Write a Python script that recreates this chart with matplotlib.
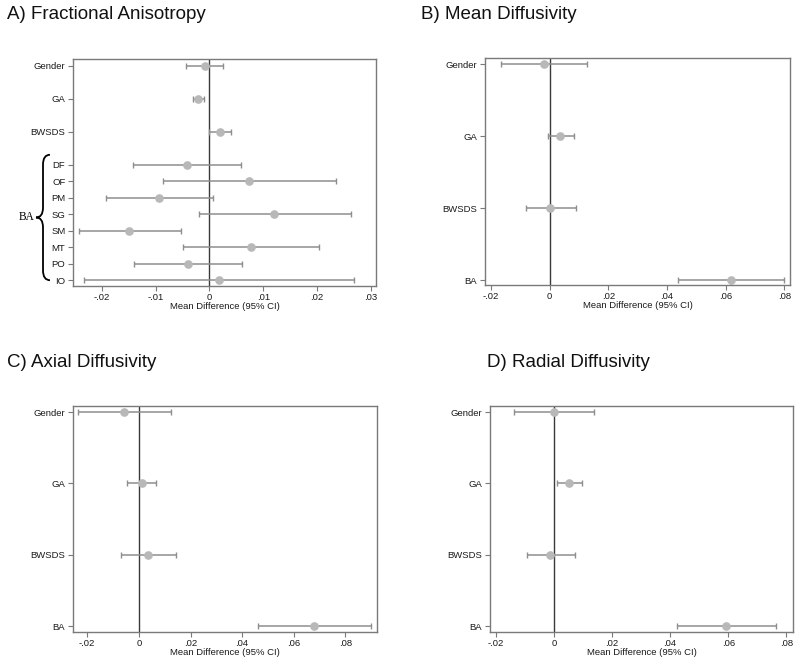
import numpy as np
import matplotlib
matplotlib.use("Agg")
import matplotlib.pyplot as plt
from matplotlib.path import Path
from matplotlib.patches import PathPatch
import matplotlib.transforms as mtransforms

plt.rcParams['font.family'] = ['Liberation Sans', 'DejaVu Sans']

# ---------------- data ----------------
fa_labels = ["Gender", "GA", "BWSDS", "DF", "OF", "PM", "SG", "SM", "MT", "PO", "IO"]
fa_est = [-0.0009, -0.0021, 0.0020, -0.0041, 0.0074, -0.0094, 0.0120, -0.0149, 0.0078, -0.0040, 0.0018]
fa_lo = [-0.0043, -0.0031, 0.0000, -0.0142, -0.0087, -0.0193, -0.0020, -0.0243, -0.0049, -0.0141, -0.0234]
fa_hi = [0.0026, -0.0011, 0.0040, 0.0059, 0.0236, 0.0006, 0.0263, -0.0053, 0.0204, 0.0061, 0.0269]

labels4 = ["Gender", "GA", "BWSDS", "BA"]
md_est = [-0.0019, 0.0037, 0.0003, 0.0617]
md_lo = [-0.0164, -0.0007, -0.0082, 0.0439]
md_hi = [0.0126, 0.0082, 0.0090, 0.0797]

ad_est = [-0.0057, 0.0012, 0.0036, 0.0678]
ad_lo = [-0.0234, -0.0044, -0.0071, 0.0461]
ad_hi = [0.0124, 0.0066, 0.0143, 0.0897]

rd_est = [0.0000, 0.0053, -0.0013, 0.0594]
rd_lo = [-0.0137, 0.0011, -0.0093, 0.0425]
rd_hi = [0.0137, 0.0095, 0.0071, 0.0763]

titles = ["A) Fractional Anisotropy", "B) Mean Diffusivity",
          "C) Axial Diffusivity", "D) Radial Diffusivity"]
xlabel = "Mean Difference (95% CI)"

# ---------------- layout ----------------
W, H = 800, 664
fig = plt.figure(figsize=(W / 100, H / 100), dpi=100)

def add_ax(l, r, t, b):
    return fig.add_axes([l / W, 1 - b / H, (r - l) / W, (b - t) / H])

SPINE = "#7a7a7a"
BAR = "#8e8e8e"
MARK = "#b8b8b8"
ZERO = "#3a3a3a"

def fmt(v, _):
    if abs(v) < 1e-9:
        return "0"
    s = f"{v:.2f}"
    return s.replace("0.", ".")

def forest(ax, labels, est, lo, hi, pos, xlim, ylim, xticks):
    est = np.asarray(est); lo = np.asarray(lo); hi = np.asarray(hi)
    ax.axvline(0, color=ZERO, lw=1.0, zorder=1)
    ax.errorbar(est, pos, xerr=[est - lo, hi - est], fmt='o',
                color=BAR, ecolor=BAR, elinewidth=1.1, capsize=2.2, capthick=1.0,
                markersize=5.2, markerfacecolor=MARK, markeredgecolor=MARK, zorder=2)
    ax.set_xlim(*xlim)
    ax.set_ylim(*ylim)
    ax.set_yticks(pos)
    ax.set_yticklabels(labels)
    ax.set_xticks(xticks)
    ax.xaxis.set_major_formatter(plt.FuncFormatter(fmt))
    ax.tick_params(axis='both', colors=SPINE, labelcolor="#1a1a1a", labelsize=6.8,
                   length=3.5, width=0.8, direction='out')
    ax.tick_params(axis='x', pad=1.5)
    ax.tick_params(axis='y', pad=2)
    for s in ax.spines.values():
        s.set_color(SPINE)
        s.set_linewidth(1.0)
    ax.set_xlabel(xlabel, fontsize=6.8, labelpad=0, color="#1a1a1a")

# positions: first three rows spaced by 2, BA sub-rows spaced by 1
fa_pos = [0, 2, 4] + [6 + i for i in range(len(fa_labels) - 3)]
pos4 = list(range(len(labels4)))

axA = add_ax(73, 376, 59, 286)
forest(axA, fa_labels, fa_est, fa_lo, fa_hi, fa_pos,
       (-0.02537, 0.03095), (13.35, -0.40), np.arange(-0.02, 0.0301, 0.01))

axB = add_ax(485, 790, 58, 285)
forest(axB, labels4, md_est, md_lo, md_hi, pos4,
       (-0.0220, 0.0819), (3.065, -0.088), np.arange(-0.02, 0.0801, 0.02))

axC = add_ax(73, 377, 406, 632)
forest(axC, labels4, ad_est, ad_lo, ad_hi, pos4,
       (-0.0255, 0.0922), (3.078, -0.084), np.arange(-0.02, 0.0801, 0.02))

axD = add_ax(490, 793, 406, 632)
forest(axD, labels4, rd_est, rd_lo, rd_hi, pos4,
       (-0.0220, 0.0823), (3.078, -0.084), np.arange(-0.02, 0.0801, 0.02))

# titles
title_xy = [(7, 19), (421, 19), (7, 367), (487, 367)]
for (x, y), t in zip(title_xy, titles):
    fig.text(x / W, 1 - y / H, t, fontsize=13.5, ha='left', va='baseline', color="#111111")

# curly brace for BA group in panel A
trans = mtransforms.blended_transform_factory(axA.transAxes, axA.transData)
y_top = fa_pos[3] - 0.6
y_bot = fa_pos[-1]
y_mid = (y_top + y_bot) / 2
xr, xm, xt = -0.076, -0.099, -0.122
c = 0.6
verts = [(xr, y_top), (xm, y_top), (xm, y_top + c),
         (xm, y_mid - c),
         (xm, y_mid), (xt, y_mid),
         (xm, y_mid), (xm, y_mid + c),
         (xm, y_bot - c),
         (xm, y_bot), (xr, y_bot)]
codes = [Path.MOVETO, Path.CURVE3, Path.CURVE3,
         Path.LINETO,
         Path.CURVE3, Path.CURVE3,
         Path.CURVE3, Path.CURVE3,
         Path.LINETO,
         Path.CURVE3, Path.CURVE3]
brace = PathPatch(Path(verts, codes), transform=trans, facecolor='none',
                  edgecolor='black', lw=1.3, clip_on=False)
axA.add_patch(brace)
axA.text(-0.128, y_mid, "BA", transform=trans, ha='right', va='center',
         fontsize=8.3, family=['Liberation Serif', 'DejaVu Serif'], color='black')

fig.savefig("out.png", dpi=100)
